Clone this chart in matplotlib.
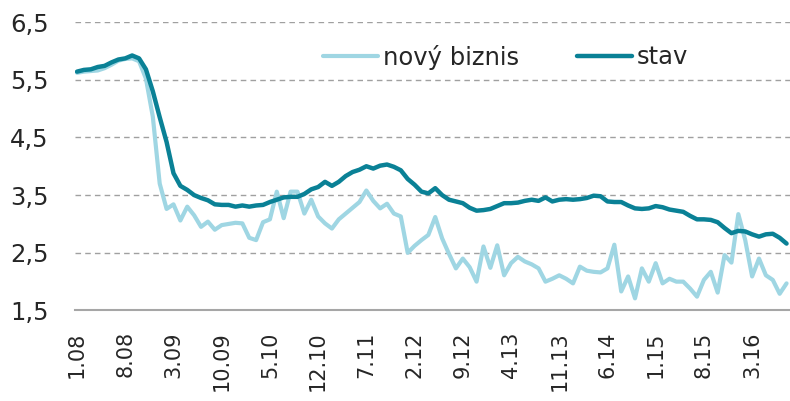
import numpy as np
import matplotlib
matplotlib.use("Agg")
import matplotlib.pyplot as plt

# monthly values, 1.08 .. 8.16
novy_biznis = [
    5.62, 5.64, 5.65, 5.66, 5.70, 5.76, 5.83, 5.86, 5.87, 5.82,
    5.52, 4.86, 3.70, 3.26, 3.34, 3.06, 3.30, 3.15, 2.95, 3.04,
    2.90, 2.98, 3.00, 3.02, 3.01, 2.76, 2.72, 3.03, 3.08, 3.56,
    3.10, 3.56, 3.56, 3.18, 3.42, 3.13, 3.01, 2.92, 3.08, 3.18,
    3.28, 3.38, 3.58, 3.40, 3.27, 3.35, 3.18, 3.13, 2.50, 2.62,
    2.72, 2.81, 3.12, 2.75, 2.48, 2.23, 2.40, 2.25, 2.00, 2.61,
    2.24, 2.63, 2.11, 2.32, 2.43, 2.35, 2.30, 2.23, 2.00, 2.05,
    2.11, 2.05, 1.97, 2.26, 2.19, 2.17, 2.16, 2.23, 2.64, 1.83,
    2.09, 1.71, 2.23, 2.00, 2.32, 1.97, 2.05, 2.00, 2.00, 1.88,
    1.74, 2.03, 2.17, 1.81, 2.46, 2.33, 3.17, 2.72, 2.09, 2.40,
    2.11, 2.03, 1.79, 1.97,
]

stav = [
    5.64, 5.67, 5.68, 5.72, 5.74, 5.80, 5.85, 5.87, 5.92, 5.87,
    5.68, 5.30, 4.85, 4.42, 3.88, 3.66, 3.59, 3.50, 3.45, 3.41,
    3.34, 3.33, 3.33, 3.30, 3.32, 3.30, 3.32, 3.33, 3.38, 3.42,
    3.46, 3.47, 3.47, 3.52, 3.60, 3.64, 3.73, 3.66, 3.73, 3.83,
    3.90, 3.94, 4.00, 3.96, 4.01, 4.03, 3.99, 3.93, 3.78, 3.68,
    3.56, 3.53, 3.62, 3.50, 3.42, 3.39, 3.36, 3.28, 3.23, 3.24,
    3.26, 3.31, 3.36, 3.36, 3.37, 3.40, 3.42, 3.40, 3.46, 3.39,
    3.42, 3.43, 3.42, 3.43, 3.45, 3.49, 3.48, 3.39, 3.38, 3.38,
    3.32, 3.27, 3.26, 3.27, 3.31, 3.29, 3.25, 3.23, 3.21, 3.14,
    3.08, 3.08, 3.07, 3.03, 2.93, 2.84, 2.88, 2.87, 2.82, 2.78,
    2.82, 2.83, 2.76, 2.66,
]

tick_labels = ["1.08", "8.08", "3.09", "10.09", "5.10", "12.10", "7.11",
               "2.12", "9.12", "4.13", "11.13", "6.14", "1.15", "8.15", "3.16"]
y_ticks = [1.5, 2.5, 3.5, 4.5, 5.5, 6.5]

plt.rcParams['font.family'] = ['DejaVu Sans']

months = np.arange(len(stav))

fig = plt.figure(figsize=(7.9, 4.01), dpi=100)
ax = fig.add_axes([0.0949, 0.2257, 0.9051, 0.7194])

ax.plot(months, novy_biznis, color="#9fd6e3", lw=3.0,
        solid_joinstyle="round", solid_capstyle="round", label="nový biznis")
ax.plot(months, stav, color="#0a8196", lw=3.2,
        solid_joinstyle="round", solid_capstyle="round", label="stav")

ax.set_xlim(-0.3, 103.5)
ax.set_ylim(1.5, 6.5)

ax.set_yticks(y_ticks)
ax.set_yticklabels([("%.1f" % v).replace(".", ",") for v in y_ticks])
ax.set_xticks(np.arange(len(tick_labels)) * 7)
ax.set_xticklabels(tick_labels, rotation=90, va="top", ha="center")

ax.tick_params(axis="y", length=0, pad=19, labelsize=17.5, colors="#262626")
ax.tick_params(axis="x", length=0, pad=15, labelsize=15, colors="#262626")

ax.yaxis.grid(True, color="#a0a0a0", ls=(0, (4, 3)), lw=1.0)
ax.set_axisbelow(True)
for s in ["top", "right", "left"]:
    ax.spines[s].set_visible(False)
ax.spines["bottom"].set_color("#a6a6a6")
ax.spines["bottom"].set_linewidth(1.5)

leg = ax.legend(loc="center left", bbox_to_anchor=(323 / 790, 1 - 57 / 401),
                bbox_transform=fig.transFigure, ncol=2, frameon=False,
                fontsize=17.5, handlelength=2.26, handletextpad=0.2,
                columnspacing=2.4, borderpad=0, borderaxespad=0)
for t in leg.get_texts():
    t.set_color("#262626")

fig.savefig("out.png", dpi=100)
